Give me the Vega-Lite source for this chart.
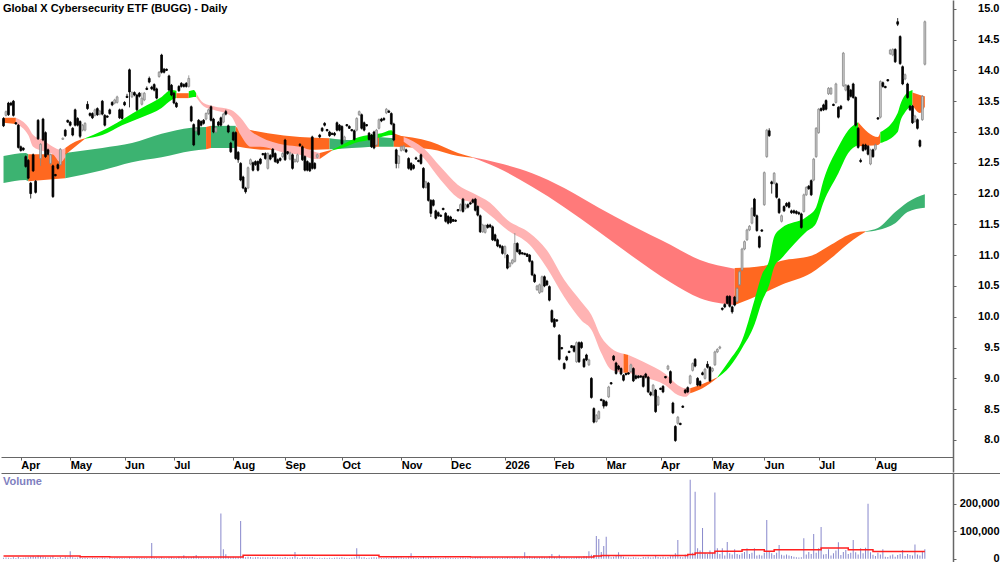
{
"$schema":"https://vega.github.io/schema/vega-lite/v6.json",
"padding":0,
"background":"white",
"spacing":0,
"config":{"view":{"stroke":null},"font":"Liberation Sans"},
"datasets":{
"ohlcv":[
{"d":-1,"o":13.22,"c":13.10,"h":13.24,"l":13.08,"v":4000},
{"d":0,"o":13.27,"c":13.33,"h":13.35,"l":13.25,"v":5000},
{"d":1,"o":13.47,"c":13.28,"h":13.49,"l":13.26,"v":4000},
{"d":2,"o":13.47,"c":13.44,"h":13.49,"l":13.42,"v":3000},
{"d":3,"o":13.50,"c":13.27,"h":13.52,"l":13.25,"v":6000},
{"d":4,"o":13.15,"c":13.13,"h":13.16,"l":13.12,"v":3000},
{"d":5,"o":13.11,"c":12.75,"h":13.13,"l":12.73,"v":7000},
{"d":6,"o":12.76,"c":12.70,"h":12.78,"l":12.68,"v":3000},
{"d":7,"o":12.74,"c":12.71,"h":12.75,"l":12.69,"v":4000},
{"d":8,"o":12.60,"c":12.44,"h":12.62,"l":12.42,"v":5000},
{"d":9,"o":12.54,"c":12.25,"h":12.56,"l":12.23,"v":6000},
{"d":10,"o":12.17,"c":12.00,"h":12.19,"l":11.92,"v":8000},
{"d":11,"o":12.63,"c":12.37,"h":12.65,"l":12.35,"v":9000},
{"d":12,"o":12.20,"c":12.02,"h":12.22,"l":12.00,"v":7000},
{"d":13,"o":13.19,"c":12.89,"h":13.21,"l":12.87,"v":12000},
{"d":14,"o":12.57,"c":12.80,"h":12.82,"l":12.45,"v":9000},
{"d":15,"o":13.21,"c":12.87,"h":13.23,"l":12.85,"v":8000},
{"d":16,"o":12.99,"c":12.60,"h":13.01,"l":12.58,"v":6000},
{"d":17,"o":12.71,"c":12.64,"h":12.73,"l":12.62,"v":5000},
{"d":18,"o":12.49,"c":12.63,"h":12.65,"l":12.47,"v":6000},
{"d":19,"o":12.45,"c":11.95,"h":12.47,"l":11.93,"v":9000},
{"d":20,"o":12.31,"c":12.29,"h":12.32,"l":12.28,"v":3000},
{"d":21,"o":12.47,"c":12.41,"h":12.49,"l":12.39,"v":4000},
{"d":22,"o":12.47,"c":12.72,"h":12.74,"l":12.45,"v":7000},
{"d":23,"o":12.88,"c":12.90,"h":12.91,"l":12.87,"v":3000},
{"d":24,"o":13.03,"c":12.94,"h":13.05,"l":12.92,"v":8000},
{"d":25,"o":13.19,"c":13.16,"h":13.20,"l":13.15,"v":5000},
{"d":26,"o":13.16,"c":13.11,"h":13.18,"l":13.09,"v":28000},
{"d":27,"o":13.06,"c":12.95,"h":13.08,"l":12.93,"v":6000},
{"d":28,"o":13.36,"c":13.11,"h":13.38,"l":13.09,"v":4000},
{"d":29,"o":13.22,"c":13.11,"h":13.24,"l":13.09,"v":5000},
{"d":30,"o":13.17,"c":12.93,"h":13.19,"l":12.90,"v":7000},
{"d":31,"o":13.03,"c":13.11,"h":13.13,"l":13.01,"v":3000},
{"d":32,"o":13.03,"c":13.14,"h":13.16,"l":13.01,"v":4000},
{"d":33,"o":13.45,"c":13.38,"h":13.50,"l":13.36,"v":3000},
{"d":34,"o":13.30,"c":13.27,"h":13.32,"l":13.25,"v":2000},
{"d":35,"o":13.30,"c":13.23,"h":13.32,"l":13.21,"v":4000},
{"d":36,"o":13.27,"c":13.36,"h":13.38,"l":13.25,"v":3000},
{"d":37,"o":13.38,"c":13.28,"h":13.40,"l":13.26,"v":3000},
{"d":38,"o":13.29,"c":13.34,"h":13.36,"l":13.27,"v":2000},
{"d":39,"o":13.50,"c":13.29,"h":13.52,"l":13.27,"v":5000},
{"d":40,"o":13.27,"c":13.11,"h":13.29,"l":13.09,"v":4000},
{"d":41,"o":13.26,"c":13.24,"h":13.27,"l":13.23,"v":2000},
{"d":42,"o":13.36,"c":13.30,"h":13.38,"l":13.28,"v":3000},
{"d":43,"o":13.48,"c":13.44,"h":13.50,"l":13.42,"v":2000},
{"d":44,"o":13.47,"c":13.52,"h":13.54,"l":13.45,"v":3000},
{"d":45,"o":13.48,"c":13.57,"h":13.59,"l":13.46,"v":4000},
{"d":46,"o":13.36,"c":13.23,"h":13.38,"l":13.21,"v":3000},
{"d":47,"o":13.36,"c":13.22,"h":13.38,"l":13.20,"v":3000},
{"d":48,"o":13.48,"c":13.44,"h":13.50,"l":13.42,"v":2000},
{"d":49,"o":13.58,"c":13.56,"h":13.62,"l":13.55,"v":2000},
{"d":50,"o":14.01,"c":13.65,"h":14.03,"l":13.40,"v":6000},
{"d":51,"o":13.57,"c":13.64,"h":13.66,"l":13.55,"v":3000},
{"d":52,"o":13.64,"c":13.60,"h":13.66,"l":13.58,"v":2000},
{"d":53,"o":13.60,"c":13.36,"h":13.62,"l":13.34,"v":4000},
{"d":54,"o":13.63,"c":13.58,"h":13.65,"l":13.56,"v":3000},
{"d":55,"o":13.45,"c":13.55,"h":13.64,"l":13.43,"v":4000},
{"d":56,"o":13.52,"c":13.63,"h":13.65,"l":13.50,"v":3000},
{"d":57,"o":13.71,"c":13.69,"h":13.74,"l":13.68,"v":3000},
{"d":58,"o":13.87,"c":13.81,"h":13.90,"l":13.79,"v":2000},
{"d":59,"o":13.73,"c":13.70,"h":13.75,"l":13.68,"v":57000},
{"d":60,"o":13.77,"c":13.68,"h":13.79,"l":13.66,"v":4000},
{"d":61,"o":13.70,"c":13.55,"h":13.72,"l":13.53,"v":3000},
{"d":62,"o":13.90,"c":13.97,"h":13.99,"l":13.88,"v":3000},
{"d":63,"o":14.25,"c":13.97,"h":14.27,"l":13.95,"v":6000},
{"d":64,"o":14.02,"c":13.97,"h":14.04,"l":13.95,"v":3000},
{"d":65,"o":14.02,"c":14.00,"h":14.03,"l":13.99,"v":2000},
{"d":66,"o":13.91,"c":13.68,"h":13.93,"l":13.66,"v":5000},
{"d":67,"o":13.76,"c":13.60,"h":13.78,"l":13.58,"v":6000},
{"d":68,"o":13.63,"c":13.47,"h":13.65,"l":13.45,"v":4000},
{"d":69,"o":13.47,"c":13.41,"h":13.49,"l":13.39,"v":3000},
{"d":70,"o":13.74,"c":13.67,"h":13.76,"l":13.65,"v":8000},
{"d":71,"o":13.79,"c":13.74,"h":13.81,"l":13.72,"v":4000},
{"d":72,"o":13.77,"c":13.74,"h":13.79,"l":13.72,"v":13000},
{"d":73,"o":13.79,"c":13.74,"h":13.81,"l":13.72,"v":5000},
{"d":74,"o":13.74,"c":13.87,"h":13.92,"l":13.72,"v":5000},
{"d":75,"o":13.41,"c":13.18,"h":13.43,"l":13.16,"v":7000},
{"d":76,"o":13.12,"c":12.79,"h":13.14,"l":12.77,"v":9000},
{"d":77,"o":13.02,"c":13.06,"h":13.08,"l":13.00,"v":14000},
{"d":78,"o":13.19,"c":12.96,"h":13.21,"l":12.94,"v":6000},
{"d":79,"o":13.17,"c":13.11,"h":13.19,"l":13.09,"v":5000},
{"d":80,"o":13.19,"c":13.14,"h":13.21,"l":13.12,"v":4000},
{"d":81,"o":13.21,"c":13.30,"h":13.32,"l":13.19,"v":4000},
{"d":82,"o":13.30,"c":13.36,"h":13.38,"l":13.28,"v":3000},
{"d":83,"o":13.41,"c":13.19,"h":13.43,"l":13.17,"v":6000},
{"d":84,"o":13.21,"c":13.00,"h":13.23,"l":12.98,"v":5000},
{"d":85,"o":13.00,"c":13.07,"h":13.09,"l":12.98,"v":4000},
{"d":86,"o":13.16,"c":13.11,"h":13.18,"l":13.09,"v":5000},
{"d":87,"o":13.23,"c":13.11,"h":13.25,"l":13.09,"v":164000},
{"d":88,"o":13.16,"c":13.29,"h":13.31,"l":13.14,"v":35000},
{"d":89,"o":13.33,"c":13.29,"h":13.36,"l":13.27,"v":17000},
{"d":90,"o":13.10,"c":13.00,"h":13.12,"l":12.98,"v":8000},
{"d":91,"o":12.82,"c":12.68,"h":12.84,"l":12.66,"v":6000},
{"d":92,"o":12.99,"c":12.87,"h":13.01,"l":12.85,"v":8000},
{"d":93,"o":12.99,"c":12.57,"h":13.01,"l":12.55,"v":6000},
{"d":94,"o":12.67,"c":12.55,"h":12.69,"l":12.50,"v":7000},
{"d":95,"o":12.49,"c":12.22,"h":12.51,"l":12.20,"v":137000},
{"d":96,"o":12.27,"c":12.09,"h":12.29,"l":12.07,"v":10000},
{"d":97,"o":12.09,"c":12.03,"h":12.11,"l":12.00,"v":6000},
{"d":98,"o":12.09,"c":12.42,"h":12.44,"l":12.07,"v":8000},
{"d":99,"o":12.48,"c":12.55,"h":12.57,"l":12.46,"v":7000},
{"d":100,"o":12.50,"c":12.38,"h":12.52,"l":12.36,"v":5000},
{"d":101,"o":12.52,"c":12.47,"h":12.54,"l":12.45,"v":6000},
{"d":102,"o":12.52,"c":12.38,"h":12.54,"l":12.36,"v":7000},
{"d":103,"o":12.56,"c":12.49,"h":12.58,"l":12.47,"v":5000},
{"d":104,"o":12.65,"c":12.63,"h":12.66,"l":12.62,"v":6000},
{"d":105,"o":12.65,"c":12.57,"h":12.67,"l":12.55,"v":5000},
{"d":106,"o":12.41,"c":12.65,"h":12.67,"l":12.39,"v":6000},
{"d":107,"o":12.62,"c":12.56,"h":12.64,"l":12.54,"v":5000},
{"d":108,"o":12.72,"c":12.60,"h":12.74,"l":12.58,"v":7000},
{"d":109,"o":12.65,"c":12.52,"h":12.67,"l":12.50,"v":5000},
{"d":110,"o":12.55,"c":12.50,"h":12.57,"l":12.48,"v":6000},
{"d":111,"o":12.57,"c":12.54,"h":12.59,"l":12.52,"v":5000},
{"d":112,"o":12.60,"c":12.65,"h":12.67,"l":12.58,"v":4000},
{"d":113,"o":12.87,"c":12.55,"h":12.89,"l":12.53,"v":7000},
{"d":114,"o":12.68,"c":12.65,"h":12.69,"l":12.63,"v":4000},
{"d":115,"o":12.56,"c":12.66,"h":12.68,"l":12.54,"v":5000},
{"d":116,"o":12.63,"c":12.41,"h":12.65,"l":12.39,"v":6000},
{"d":117,"o":12.52,"c":12.55,"h":12.57,"l":12.50,"v":25000},
{"d":118,"o":12.52,"c":12.63,"h":12.65,"l":12.50,"v":5000},
{"d":119,"o":12.80,"c":12.78,"h":12.82,"l":12.76,"v":3000},
{"d":120,"o":12.76,"c":12.55,"h":12.78,"l":12.53,"v":6000},
{"d":121,"o":12.60,"c":12.38,"h":12.62,"l":12.36,"v":7000},
{"d":122,"o":12.52,"c":12.38,"h":12.54,"l":12.36,"v":5000},
{"d":123,"o":12.49,"c":12.37,"h":12.51,"l":12.35,"v":6000},
{"d":124,"o":12.92,"c":12.41,"h":12.94,"l":12.39,"v":7000},
{"d":125,"o":12.49,"c":12.41,"h":12.51,"l":12.39,"v":4000},
{"d":126,"o":12.59,"c":12.63,"h":12.65,"l":12.57,"v":3000},
{"d":127,"o":12.95,"c":12.92,"h":12.97,"l":12.90,"v":4000},
{"d":128,"o":13.06,"c":13.02,"h":13.08,"l":13.00,"v":3000},
{"d":129,"o":13.14,"c":13.11,"h":13.16,"l":13.09,"v":4000},
{"d":130,"o":13.04,"c":13.02,"h":13.05,"l":13.01,"v":3000},
{"d":131,"o":13.00,"c":12.94,"h":13.02,"l":12.92,"v":4000},
{"d":132,"o":12.98,"c":12.96,"h":12.99,"l":12.95,"v":3000},
{"d":133,"o":12.98,"c":12.95,"h":13.00,"l":12.93,"v":4000},
{"d":134,"o":13.15,"c":13.03,"h":13.17,"l":13.01,"v":5000},
{"d":135,"o":13.11,"c":13.03,"h":13.13,"l":13.01,"v":4000},
{"d":136,"o":13.09,"c":12.81,"h":13.11,"l":12.79,"v":6000},
{"d":137,"o":12.87,"c":12.92,"h":12.94,"l":12.85,"v":4000},
{"d":138,"o":13.12,"c":13.10,"h":13.13,"l":13.09,"v":3000},
{"d":139,"o":13.09,"c":13.06,"h":13.11,"l":13.05,"v":3000},
{"d":140,"o":13.04,"c":13.02,"h":13.05,"l":13.01,"v":4000},
{"d":141,"o":13.02,"c":12.88,"h":13.04,"l":12.86,"v":5000},
{"d":142,"o":13.03,"c":13.22,"h":13.24,"l":13.01,"v":38000},
{"d":143,"o":13.28,"c":13.33,"h":13.35,"l":13.26,"v":9000},
{"d":144,"o":13.28,"c":13.06,"h":13.30,"l":13.04,"v":5000},
{"d":145,"o":13.15,"c":13.03,"h":13.17,"l":13.01,"v":6000},
{"d":146,"o":13.12,"c":13.10,"h":13.13,"l":13.09,"v":3000},
{"d":147,"o":12.98,"c":12.88,"h":13.00,"l":12.86,"v":4000},
{"d":148,"o":12.95,"c":12.76,"h":12.97,"l":12.74,"v":5000},
{"d":149,"o":13.00,"c":12.74,"h":13.02,"l":12.72,"v":6000},
{"d":150,"o":12.79,"c":13.03,"h":13.05,"l":12.77,"v":5000},
{"d":151,"o":13.06,"c":13.20,"h":13.22,"l":13.04,"v":4000},
{"d":152,"o":13.21,"c":13.18,"h":13.23,"l":13.16,"v":3000},
{"d":153,"o":13.22,"c":13.20,"h":13.24,"l":13.18,"v":3000},
{"d":154,"o":13.31,"c":13.37,"h":13.39,"l":13.29,"v":4000},
{"d":155,"o":13.34,"c":13.32,"h":13.36,"l":13.31,"v":3000},
{"d":156,"o":13.30,"c":13.13,"h":13.32,"l":13.11,"v":6000},
{"d":157,"o":13.13,"c":12.87,"h":13.15,"l":12.85,"v":7000},
{"d":158,"o":12.71,"c":12.49,"h":12.73,"l":12.41,"v":8000},
{"d":159,"o":12.49,"c":12.61,"h":12.63,"l":12.41,"v":5000},
{"d":160,"o":12.70,"c":12.76,"h":12.78,"l":12.68,"v":6000},
{"d":161,"o":12.71,"c":12.77,"h":12.79,"l":12.69,"v":4000},
{"d":162,"o":12.71,"c":12.68,"h":12.73,"l":12.66,"v":4000},
{"d":163,"o":12.57,"c":12.41,"h":12.59,"l":12.39,"v":6000},
{"d":164,"o":12.49,"c":12.39,"h":12.51,"l":12.37,"v":20000},
{"d":165,"o":12.46,"c":12.41,"h":12.48,"l":12.39,"v":5000},
{"d":166,"o":12.58,"c":12.56,"h":12.60,"l":12.55,"v":3000},
{"d":167,"o":12.54,"c":12.52,"h":12.55,"l":12.51,"v":3000},
{"d":168,"o":12.63,"c":12.49,"h":12.65,"l":12.47,"v":5000},
{"d":169,"o":12.41,"c":12.10,"h":12.43,"l":12.08,"v":7000},
{"d":170,"o":12.10,"c":12.19,"h":12.21,"l":12.08,"v":5000},
{"d":171,"o":12.17,"c":11.89,"h":12.19,"l":11.87,"v":6000},
{"d":172,"o":11.89,"c":11.68,"h":11.91,"l":11.62,"v":8000},
{"d":173,"o":11.89,"c":11.81,"h":11.91,"l":11.79,"v":4000},
{"d":174,"o":11.72,"c":11.60,"h":11.74,"l":11.58,"v":5000},
{"d":175,"o":11.69,"c":11.64,"h":11.71,"l":11.62,"v":4000},
{"d":176,"o":11.65,"c":11.63,"h":11.66,"l":11.62,"v":3000},
{"d":177,"o":11.76,"c":11.74,"h":11.77,"l":11.73,"v":3000},
{"d":178,"o":11.68,"c":11.55,"h":11.70,"l":11.53,"v":5000},
{"d":179,"o":11.63,"c":11.52,"h":11.65,"l":11.50,"v":4000},
{"d":180,"o":11.62,"c":11.53,"h":11.64,"l":11.51,"v":4000},
{"d":181,"o":11.58,"c":11.55,"h":11.59,"l":11.54,"v":3000},
{"d":182,"o":11.57,"c":11.55,"h":11.58,"l":11.54,"v":3000},
{"d":183,"o":11.74,"c":11.72,"h":11.75,"l":11.71,"v":3000},
{"d":184,"o":11.73,"c":11.82,"h":11.84,"l":11.71,"v":5000},
{"d":185,"o":11.91,"c":11.71,"h":11.93,"l":11.69,"v":6000},
{"d":186,"o":11.76,"c":11.82,"h":11.84,"l":11.74,"v":4000},
{"d":187,"o":11.82,"c":11.78,"h":11.84,"l":11.76,"v":5000},
{"d":188,"o":11.85,"c":11.83,"h":11.87,"l":11.82,"v":3000},
{"d":189,"o":11.90,"c":11.86,"h":11.92,"l":11.84,"v":4000},
{"d":190,"o":11.91,"c":11.73,"h":11.93,"l":11.71,"v":7000},
{"d":191,"o":11.79,"c":11.65,"h":11.81,"l":11.63,"v":6000},
{"d":192,"o":11.64,"c":11.38,"h":11.66,"l":11.36,"v":8000},
{"d":193,"o":11.38,"c":11.49,"h":11.51,"l":11.36,"v":5000},
{"d":194,"o":11.37,"c":11.48,"h":11.50,"l":11.35,"v":4000},
{"d":195,"o":11.49,"c":11.45,"h":11.51,"l":11.43,"v":4000},
{"d":196,"o":11.49,"c":11.46,"h":11.51,"l":11.44,"v":3000},
{"d":197,"o":11.46,"c":11.25,"h":11.48,"l":11.23,"v":6000},
{"d":198,"o":11.33,"c":11.24,"h":11.35,"l":11.22,"v":5000},
{"d":199,"o":11.25,"c":11.15,"h":11.27,"l":11.13,"v":4000},
{"d":200,"o":11.16,"c":11.13,"h":11.18,"l":11.11,"v":3000},
{"d":201,"o":11.14,"c":11.03,"h":11.16,"l":11.01,"v":5000},
{"d":202,"o":11.02,"c":11.14,"h":11.16,"l":10.95,"v":4000},
{"d":203,"o":11.00,"c":10.79,"h":11.02,"l":10.77,"v":7000},
{"d":204,"o":10.82,"c":10.87,"h":10.89,"l":10.80,"v":4000},
{"d":205,"o":10.87,"c":10.92,"h":10.94,"l":10.85,"v":5000},
{"d":206,"o":10.90,"c":11.19,"h":11.36,"l":10.88,"v":8000},
{"d":207,"o":11.19,"c":11.06,"h":11.21,"l":11.04,"v":6000},
{"d":208,"o":11.08,"c":11.02,"h":11.10,"l":11.00,"v":4000},
{"d":209,"o":11.04,"c":11.02,"h":11.05,"l":11.01,"v":4000},
{"d":210,"o":11.03,"c":11.01,"h":11.04,"l":11.00,"v":24000},
{"d":211,"o":11.02,"c":10.98,"h":11.03,"l":10.97,"v":9000},
{"d":212,"o":11.00,"c":10.90,"h":11.02,"l":10.88,"v":10000},
{"d":213,"o":10.90,"c":10.68,"h":10.92,"l":10.66,"v":6000},
{"d":214,"o":10.68,"c":10.57,"h":10.70,"l":10.55,"v":7000},
{"d":215,"o":10.44,"c":10.50,"h":10.52,"l":10.42,"v":5000},
{"d":216,"o":10.39,"c":10.52,"h":10.54,"l":10.37,"v":6000},
{"d":217,"o":10.41,"c":10.65,"h":10.67,"l":10.39,"v":8000},
{"d":218,"o":10.65,"c":10.50,"h":10.67,"l":10.48,"v":6000},
{"d":219,"o":10.58,"c":10.52,"h":10.60,"l":10.50,"v":5000},
{"d":220,"o":10.49,"c":10.27,"h":10.51,"l":10.25,"v":9000},
{"d":221,"o":10.10,"c":9.92,"h":10.12,"l":9.90,"v":18000},
{"d":222,"o":9.96,"c":9.84,"h":9.98,"l":9.82,"v":7000},
{"d":223,"o":9.95,"c":9.93,"h":9.96,"l":9.92,"v":5000},
{"d":224,"o":9.70,"c":9.31,"h":9.72,"l":9.29,"v":15000},
{"d":225,"o":9.50,"c":9.48,"h":9.51,"l":9.47,"v":6000},
{"d":226,"o":9.24,"c":9.16,"h":9.26,"l":9.14,"v":6000},
{"d":227,"o":9.35,"c":9.30,"h":9.37,"l":9.28,"v":5000},
{"d":228,"o":9.44,"c":9.42,"h":9.45,"l":9.41,"v":4000},
{"d":229,"o":9.53,"c":9.50,"h":9.54,"l":9.49,"v":4000},
{"d":230,"o":9.52,"c":9.44,"h":9.54,"l":9.42,"v":5000},
{"d":231,"o":9.27,"c":9.58,"h":9.60,"l":9.25,"v":7000},
{"d":232,"o":9.58,"c":9.27,"h":9.60,"l":9.25,"v":8000},
{"d":233,"o":9.58,"c":9.50,"h":9.60,"l":9.48,"v":5000},
{"d":234,"o":9.31,"c":9.19,"h":9.33,"l":9.17,"v":10000},
{"d":235,"o":9.38,"c":9.30,"h":9.40,"l":9.28,"v":9000},
{"d":236,"o":9.22,"c":9.30,"h":9.32,"l":9.20,"v":28000},
{"d":237,"o":9.00,"c":8.69,"h":9.02,"l":8.67,"v":15000},
{"d":238,"o":8.51,"c":8.29,"h":8.53,"l":8.27,"v":14000},
{"d":239,"o":8.30,"c":8.40,"h":8.42,"l":8.28,"v":83000},
{"d":240,"o":8.35,"c":8.46,"h":8.48,"l":8.33,"v":72000},
{"d":241,"o":8.66,"c":8.64,"h":8.67,"l":8.63,"v":25000},
{"d":242,"o":8.64,"c":8.55,"h":8.66,"l":8.51,"v":47000},
{"d":243,"o":8.62,"c":8.56,"h":8.64,"l":8.54,"v":80000},
{"d":244,"o":8.70,"c":8.86,"h":8.88,"l":8.68,"v":10000},
{"d":245,"o":8.93,"c":8.91,"h":8.94,"l":8.90,"v":6000},
{"d":246,"o":9.36,"c":9.30,"h":9.38,"l":9.28,"v":8000},
{"d":247,"o":9.25,"c":9.08,"h":9.27,"l":9.06,"v":12000},
{"d":248,"o":9.20,"c":9.15,"h":9.22,"l":9.13,"v":24000},
{"d":249,"o":9.16,"c":9.07,"h":9.18,"l":9.05,"v":10000},
{"d":250,"o":9.05,"c":8.97,"h":9.07,"l":8.95,"v":8000},
{"d":251,"o":9.08,"c":9.06,"h":9.09,"l":9.05,"v":5000},
{"d":252,"o":9.09,"c":9.07,"h":9.10,"l":9.06,"v":5000},
{"d":253,"o":9.11,"c":9.22,"h":9.24,"l":9.09,"v":4000},
{"d":254,"o":9.16,"c":8.96,"h":9.18,"l":8.94,"v":6000},
{"d":255,"o":9.04,"c":9.00,"h":9.06,"l":8.98,"v":5000},
{"d":256,"o":9.04,"c":9.01,"h":9.05,"l":9.00,"v":4000},
{"d":257,"o":9.04,"c":9.02,"h":9.05,"l":9.01,"v":3000},
{"d":258,"o":9.03,"c":8.87,"h":9.05,"l":8.85,"v":7000},
{"d":259,"o":9.07,"c":9.02,"h":9.09,"l":9.00,"v":6000},
{"d":260,"o":9.02,"c":8.78,"h":9.04,"l":8.76,"v":8000},
{"d":261,"o":8.77,"c":8.73,"h":8.79,"l":8.71,"v":5000},
{"d":262,"o":8.73,"c":8.89,"h":8.91,"l":8.71,"v":6000},
{"d":263,"o":8.81,"c":8.46,"h":8.83,"l":8.44,"v":10000},
{"d":264,"o":8.57,"c":8.70,"h":8.72,"l":8.55,"v":7000},
{"d":265,"o":8.84,"c":8.82,"h":8.85,"l":8.81,"v":5000},
{"d":266,"o":8.87,"c":8.78,"h":8.89,"l":8.76,"v":8000},
{"d":267,"o":9.03,"c":9.01,"h":9.04,"l":9.00,"v":5000},
{"d":268,"o":9.15,"c":9.20,"h":9.22,"l":9.13,"v":7000},
{"d":269,"o":9.11,"c":8.93,"h":9.13,"l":8.91,"v":9000},
{"d":270,"o":8.60,"c":8.44,"h":8.62,"l":8.42,"v":12000},
{"d":271,"o":8.22,"c":7.99,"h":8.24,"l":7.97,"v":20000},
{"d":272,"o":8.27,"c":8.37,"h":8.39,"l":8.25,"v":68000},
{"d":273,"o":8.27,"c":8.25,"h":8.28,"l":8.24,"v":8000},
{"d":274,"o":8.55,"c":8.53,"h":8.56,"l":8.52,"v":6000},
{"d":275,"o":8.81,"c":8.77,"h":8.83,"l":8.75,"v":16000},
{"d":276,"o":8.85,"c":8.78,"h":8.87,"l":8.76,"v":14000},
{"d":277,"o":8.92,"c":9.04,"h":9.06,"l":8.90,"v":287000},
{"d":278,"o":9.13,"c":9.24,"h":9.26,"l":9.11,"v":22000},
{"d":279,"o":9.31,"c":9.20,"h":9.33,"l":9.18,"v":243000},
{"d":280,"o":9.00,"c":8.89,"h":9.02,"l":8.87,"v":38000},
{"d":281,"o":8.95,"c":8.89,"h":8.97,"l":8.87,"v":30000},
{"d":282,"o":9.09,"c":9.06,"h":9.11,"l":9.05,"v":112000},
{"d":283,"o":9.00,"c":9.15,"h":9.17,"l":8.98,"v":22000},
{"d":284,"o":9.23,"c":9.18,"h":9.28,"l":9.16,"v":18000},
{"d":285,"o":9.18,"c":8.96,"h":9.20,"l":8.94,"v":30000},
{"d":286,"o":9.12,"c":9.16,"h":9.18,"l":9.10,"v":22000},
{"d":287,"o":9.22,"c":9.43,"h":9.45,"l":9.20,"v":240000},
{"d":288,"o":9.43,"c":9.47,"h":9.49,"l":9.41,"v":38000},
{"d":289,"o":9.49,"c":9.51,"h":9.53,"l":9.47,"v":18000},
{"d":290,"o":10.14,"c":10.12,"h":10.15,"l":10.10,"v":38000},
{"d":291,"o":10.20,"c":10.16,"h":10.22,"l":10.14,"v":12000},
{"d":292,"o":10.33,"c":10.22,"h":10.35,"l":10.20,"v":61000},
{"d":293,"o":10.33,"c":10.17,"h":10.35,"l":10.15,"v":20000},
{"d":294,"o":10.16,"c":10.08,"h":10.18,"l":10.05,"v":16000},
{"d":295,"o":10.32,"c":10.19,"h":10.34,"l":10.17,"v":35000},
{"d":296,"o":10.25,"c":10.46,"h":10.48,"l":10.23,"v":18000},
{"d":297,"o":10.52,"c":10.73,"h":10.75,"l":10.50,"v":15000},
{"d":298,"o":10.76,"c":11.10,"h":11.12,"l":10.74,"v":20000},
{"d":299,"o":11.10,"c":11.22,"h":11.24,"l":11.08,"v":25000},
{"d":300,"o":11.25,"c":11.41,"h":11.43,"l":11.23,"v":38000},
{"d":301,"o":11.41,"c":11.47,"h":11.49,"l":11.39,"v":18000},
{"d":302,"o":11.52,"c":11.76,"h":11.78,"l":11.50,"v":22000},
{"d":303,"o":11.91,"c":11.64,"h":11.93,"l":11.62,"v":38000},
{"d":304,"o":11.64,"c":11.40,"h":11.66,"l":11.38,"v":12000},
{"d":305,"o":11.30,"c":11.13,"h":11.32,"l":11.11,"v":15000},
{"d":306,"o":11.41,"c":11.39,"h":11.42,"l":11.38,"v":12000},
{"d":307,"o":11.82,"c":12.34,"h":12.36,"l":11.80,"v":22000},
{"d":308,"o":12.60,"c":13.03,"h":13.05,"l":12.58,"v":141000},
{"d":309,"o":13.02,"c":12.94,"h":13.06,"l":12.92,"v":25000},
{"d":310,"o":12.19,"c":12.16,"h":12.21,"l":12.00,"v":20000},
{"d":311,"o":12.17,"c":12.33,"h":12.35,"l":12.15,"v":14000},
{"d":312,"o":12.16,"c":11.94,"h":12.18,"l":11.92,"v":22000},
{"d":313,"o":11.91,"c":11.69,"h":11.93,"l":11.67,"v":50000},
{"d":314,"o":11.55,"c":11.64,"h":11.66,"l":11.53,"v":15000},
{"d":315,"o":11.79,"c":11.72,"h":11.81,"l":11.70,"v":12000},
{"d":316,"o":11.84,"c":11.80,"h":11.86,"l":11.78,"v":16000},
{"d":317,"o":11.85,"c":11.78,"h":11.87,"l":11.76,"v":12000},
{"d":318,"o":11.72,"c":11.69,"h":11.74,"l":11.67,"v":10000},
{"d":319,"o":11.72,"c":11.69,"h":11.74,"l":11.67,"v":8000},
{"d":320,"o":11.71,"c":11.68,"h":11.73,"l":11.66,"v":6000},
{"d":321,"o":11.69,"c":11.67,"h":11.71,"l":11.65,"v":5000},
{"d":322,"o":11.67,"c":11.45,"h":11.69,"l":11.43,"v":6000},
{"d":323,"o":11.71,"c":11.98,"h":12.00,"l":11.69,"v":75000},
{"d":324,"o":11.98,"c":12.10,"h":12.12,"l":11.96,"v":16000},
{"d":325,"o":12.12,"c":12.08,"h":12.14,"l":12.06,"v":25000},
{"d":326,"o":12.21,"c":11.98,"h":12.23,"l":11.96,"v":18000},
{"d":327,"o":12.22,"c":12.56,"h":12.58,"l":12.20,"v":90000},
{"d":328,"o":12.60,"c":13.06,"h":13.08,"l":12.58,"v":22000},
{"d":329,"o":12.99,"c":13.37,"h":13.39,"l":12.97,"v":38000},
{"d":330,"o":13.38,"c":13.35,"h":13.40,"l":13.33,"v":115000},
{"d":331,"o":13.44,"c":13.36,"h":13.46,"l":13.34,"v":16000},
{"d":332,"o":13.51,"c":13.37,"h":13.53,"l":13.35,"v":18000},
{"d":333,"o":13.62,"c":13.71,"h":13.73,"l":13.60,"v":35000},
{"d":334,"o":13.62,"c":13.71,"h":13.73,"l":13.60,"v":12000},
{"d":335,"o":13.45,"c":13.43,"h":13.46,"l":13.42,"v":20000},
{"d":336,"o":13.48,"c":13.78,"h":13.80,"l":13.46,"v":30000},
{"d":337,"o":13.40,"c":13.24,"h":13.42,"l":13.22,"v":60000},
{"d":338,"o":13.42,"c":13.38,"h":13.44,"l":13.36,"v":14000},
{"d":339,"o":13.75,"c":14.28,"h":14.30,"l":13.73,"v":25000},
{"d":340,"o":13.68,"c":13.76,"h":13.78,"l":13.66,"v":32000},
{"d":341,"o":13.75,"c":13.52,"h":13.77,"l":13.50,"v":18000},
{"d":342,"o":13.68,"c":13.58,"h":13.70,"l":13.56,"v":22000},
{"d":343,"o":13.78,"c":13.56,"h":13.80,"l":13.54,"v":68000},
{"d":344,"o":13.56,"c":13.11,"h":13.58,"l":13.09,"v":24000},
{"d":345,"o":13.06,"c":12.75,"h":13.08,"l":12.73,"v":16000},
{"d":346,"o":12.54,"c":12.52,"h":12.57,"l":12.50,"v":38000},
{"d":347,"o":12.79,"c":12.70,"h":12.81,"l":12.68,"v":20000},
{"d":348,"o":12.79,"c":12.72,"h":12.81,"l":12.70,"v":40000},
{"d":349,"o":12.77,"c":12.64,"h":12.79,"l":12.62,"v":200000},
{"d":350,"o":12.48,"c":12.71,"h":12.73,"l":12.46,"v":24000},
{"d":351,"o":12.71,"c":12.60,"h":12.73,"l":12.58,"v":15000},
{"d":352,"o":12.72,"c":12.79,"h":12.81,"l":12.70,"v":10000},
{"d":353,"o":13.23,"c":13.21,"h":13.24,"l":13.20,"v":22000},
{"d":354,"o":13.24,"c":13.82,"h":13.84,"l":13.22,"v":16000},
{"d":355,"o":13.80,"c":13.74,"h":13.82,"l":13.72,"v":35000},
{"d":356,"o":13.74,"c":13.72,"h":13.75,"l":13.71,"v":8000},
{"d":357,"o":13.85,"c":13.83,"h":13.86,"l":13.82,"v":7000},
{"d":358,"o":14.27,"c":14.33,"h":14.35,"l":14.25,"v":12000},
{"d":359,"o":14.25,"c":14.34,"h":14.36,"l":14.23,"v":16000},
{"d":360,"o":14.34,"c":14.14,"h":14.36,"l":14.12,"v":8000},
{"d":361,"o":14.79,"c":14.75,"h":14.85,"l":14.72,"v":14000},
{"d":362,"o":14.55,"c":14.11,"h":14.57,"l":14.09,"v":18000},
{"d":363,"o":14.06,"c":13.78,"h":14.08,"l":13.76,"v":32000},
{"d":364,"o":13.86,"c":13.93,"h":13.95,"l":13.84,"v":10000},
{"d":365,"o":13.78,"c":13.56,"h":13.80,"l":13.54,"v":18000},
{"d":366,"o":13.42,"c":13.36,"h":13.44,"l":13.34,"v":14000},
{"d":367,"o":13.42,"c":13.15,"h":13.44,"l":13.13,"v":12000},
{"d":368,"o":13.17,"c":13.26,"h":13.28,"l":13.15,"v":52000},
{"d":369,"o":13.20,"c":13.06,"h":13.22,"l":13.04,"v":16000},
{"d":370,"o":12.86,"c":12.77,"h":12.88,"l":12.75,"v":12000},
{"d":371,"o":13.20,"c":13.58,"h":13.60,"l":13.18,"v":25000},
{"d":372,"o":14.10,"c":14.79,"h":14.81,"l":14.08,"v":35000}
],
"ribbons":[
{"seg":"L01","state":"long up","d":-1,"a":12.61,"b":12.17},{"seg":"L01","state":"long up","d":8,"a":12.66,"b":12.22},{"seg":"L01","state":"long up","d":9,"a":12.64,"b":12.20},
{"seg":"L02","state":"mixed","d":9,"a":12.64,"b":12.20},{"seg":"L02","state":"mixed","d":24,"a":12.64,"b":12.25},
{"seg":"L03","state":"long up","d":24,"a":12.66,"b":12.25},{"seg":"L03","state":"long up","d":39,"a":12.74,"b":12.38},{"seg":"L03","state":"long up","d":51,"a":12.82,"b":12.51},{"seg":"L03","state":"long up","d":63,"a":12.97,"b":12.59},{"seg":"L03","state":"long up","d":75,"a":13.07,"b":12.69},{"seg":"L03","state":"long up","d":81,"a":13.08,"b":12.72},
{"seg":"L04","state":"mixed","d":81,"a":13.08,"b":12.72},{"seg":"L04","state":"mixed","d":83,"a":13.10,"b":12.74},
{"seg":"L05","state":"long up","d":83,"a":13.10,"b":12.74},{"seg":"L05","state":"long up","d":93,"a":13.10,"b":12.74},
{"seg":"L06","state":"mixed","d":93,"a":13.08,"b":12.77},{"seg":"L06","state":"mixed","d":106,"a":12.98,"b":12.71},{"seg":"L06","state":"mixed","d":119,"a":12.92,"b":12.71},{"seg":"L06","state":"mixed","d":131,"a":12.90,"b":12.72},
{"seg":"L07","state":"long up","d":131,"a":12.90,"b":12.72},{"seg":"L07","state":"long up","d":140,"a":12.87,"b":12.74},{"seg":"L07","state":"long up","d":148,"a":12.90,"b":12.76},
{"seg":"L08","state":"mixed","d":148,"a":12.90,"b":12.76},{"seg":"L08","state":"mixed","d":151,"a":12.95,"b":12.76},
{"seg":"L09","state":"long up","d":151,"a":12.92,"b":12.76},{"seg":"L09","state":"long up","d":157,"a":12.90,"b":12.76},
{"seg":"L10","state":"mixed","d":157,"a":12.95,"b":12.76},{"seg":"L10","state":"mixed","d":172,"a":12.84,"b":12.72},{"seg":"L10","state":"mixed","d":183,"a":12.66,"b":12.61},{"seg":"L10","state":"mixed","d":189,"a":12.59,"b":12.58},
{"seg":"L11","state":"long down","d":189,"a":12.59,"b":12.58},{"seg":"L11","state":"long down","d":199,"a":12.50,"b":12.42},{"seg":"L11","state":"long down","d":213,"a":12.33,"b":12.11},{"seg":"L11","state":"long down","d":226,"a":12.09,"b":11.78},{"seg":"L11","state":"long down","d":240,"a":11.77,"b":11.38},{"seg":"L11","state":"long down","d":253,"a":11.49,"b":11.00},{"seg":"L11","state":"long down","d":269,"a":11.17,"b":10.56},{"seg":"L11","state":"long down","d":281,"a":10.92,"b":10.30},{"seg":"L11","state":"long down","d":295,"a":10.78,"b":10.19},
{"seg":"L12","state":"mixed","d":295,"a":10.79,"b":10.19},{"seg":"L12","state":"mixed","d":307,"a":10.83,"b":10.39},{"seg":"L12","state":"mixed","d":314,"a":10.91,"b":10.52},{"seg":"L12","state":"mixed","d":326,"a":10.99,"b":10.71},{"seg":"L12","state":"mixed","d":334,"a":11.17,"b":10.95},{"seg":"L12","state":"mixed","d":343,"a":11.36,"b":11.25},{"seg":"L12","state":"mixed","d":348,"a":11.39,"b":11.38},
{"seg":"L13","state":"long up","d":348,"a":11.39,"b":11.38},{"seg":"L13","state":"long up","d":353,"a":11.44,"b":11.41},{"seg":"L13","state":"long up","d":360,"a":11.70,"b":11.52},{"seg":"L13","state":"long up","d":365,"a":11.86,"b":11.70},{"seg":"L13","state":"long up","d":372,"a":11.99,"b":11.77},
{"seg":"S01","state":"mixed","d":-1,"a":13.23,"b":13.15},{"seg":"S01","state":"mixed","d":4,"a":13.23,"b":13.13},
{"seg":"S02","state":"short down","d":4,"a":13.23,"b":13.13},{"seg":"S02","state":"short down","d":9,"a":13.08,"b":12.95},{"seg":"S02","state":"short down","d":11,"a":12.95,"b":12.76},{"seg":"S02","state":"short down","d":15,"a":12.87,"b":12.69},{"seg":"S02","state":"short down","d":19,"a":12.76,"b":12.64},{"seg":"S02","state":"short down","d":22,"a":12.71,"b":12.51},{"seg":"S02","state":"short down","d":24,"a":12.74,"b":12.59},
{"seg":"S03","state":"mixed","d":24,"a":12.74,"b":12.63},{"seg":"S03","state":"mixed","d":28,"a":12.84,"b":12.76},{"seg":"S03","state":"mixed","d":32,"a":12.90,"b":12.89},
{"seg":"S04","state":"short up","d":32,"a":12.90,"b":12.89},{"seg":"S04","state":"short up","d":39,"a":13.02,"b":12.95},{"seg":"S04","state":"short up","d":47,"a":13.20,"b":13.11},{"seg":"S04","state":"short up","d":55,"a":13.39,"b":13.24},{"seg":"S04","state":"short up","d":63,"a":13.57,"b":13.39},{"seg":"S04","state":"short up","d":67,"a":13.68,"b":13.52},{"seg":"S04","state":"short up","d":69,"a":13.67,"b":13.55},
{"seg":"S05","state":"mixed","d":69,"a":13.63,"b":13.55},{"seg":"S05","state":"mixed","d":74,"a":13.63,"b":13.55},
{"seg":"S06","state":"short up","d":74,"a":13.66,"b":13.55},{"seg":"S06","state":"short up","d":76,"a":13.68,"b":13.57},{"seg":"S06","state":"short up","d":77,"a":13.63,"b":13.57},
{"seg":"S07","state":"short down","d":77,"a":13.63,"b":13.57},{"seg":"S07","state":"short down","d":80,"a":13.47,"b":13.42},{"seg":"S07","state":"short down","d":84,"a":13.42,"b":13.36},{"seg":"S07","state":"short down","d":91,"a":13.36,"b":13.26},{"seg":"S07","state":"short down","d":95,"a":13.23,"b":12.95},{"seg":"S07","state":"short down","d":99,"a":13.02,"b":12.76},{"seg":"S07","state":"short down","d":103,"a":12.92,"b":12.76},{"seg":"S07","state":"short down","d":113,"a":12.79,"b":12.66},{"seg":"S07","state":"short down","d":119,"a":12.76,"b":12.63},{"seg":"S07","state":"short down","d":125,"a":12.68,"b":12.56},{"seg":"S07","state":"short down","d":127,"a":12.66,"b":12.56},
{"seg":"S08","state":"mixed","d":127,"a":12.66,"b":12.56},{"seg":"S08","state":"mixed","d":132,"a":12.71,"b":12.70},
{"seg":"S09","state":"short up","d":132,"a":12.71,"b":12.70},{"seg":"S09","state":"short up","d":136,"a":12.79,"b":12.74},{"seg":"S09","state":"short up","d":143,"a":12.92,"b":12.84},{"seg":"S09","state":"short up","d":147,"a":12.95,"b":12.87},{"seg":"S09","state":"short up","d":152,"a":12.98,"b":12.92},{"seg":"S09","state":"short up","d":156,"a":13.03,"b":12.95},{"seg":"S09","state":"short up","d":157,"a":12.98,"b":12.95},
{"seg":"S10","state":"mixed","d":157,"a":12.98,"b":12.95},{"seg":"S10","state":"mixed","d":161,"a":12.92,"b":12.84},
{"seg":"S11","state":"short down","d":161,"a":12.92,"b":12.84},{"seg":"S11","state":"short down","d":169,"a":12.74,"b":12.58},{"seg":"S11","state":"short down","d":176,"a":12.43,"b":12.22},{"seg":"S11","state":"short down","d":183,"a":12.14,"b":11.93},{"seg":"S11","state":"short down","d":189,"a":12.01,"b":11.85},{"seg":"S11","state":"short down","d":196,"a":11.85,"b":11.65},{"seg":"S11","state":"short down","d":203,"a":11.57,"b":11.41},{"seg":"S11","state":"short down","d":212,"a":11.36,"b":11.17},{"seg":"S11","state":"short down","d":219,"a":11.08,"b":10.79},{"seg":"S11","state":"short down","d":226,"a":10.60,"b":10.32},{"seg":"S11","state":"short down","d":233,"a":10.24,"b":9.94},{"seg":"S11","state":"short down","d":237,"a":10.03,"b":9.79},{"seg":"S11","state":"short down","d":241,"a":9.67,"b":9.41},{"seg":"S11","state":"short down","d":245,"a":9.49,"b":9.14},{"seg":"S11","state":"short down","d":250,"a":9.40,"b":9.09},
{"seg":"S12","state":"mixed","d":250,"a":9.40,"b":9.09},{"seg":"S12","state":"mixed","d":252,"a":9.38,"b":9.09},
{"seg":"S13","state":"short down","d":252,"a":9.38,"b":9.09},{"seg":"S13","state":"short down","d":258,"a":9.27,"b":9.02},{"seg":"S13","state":"short down","d":267,"a":9.07,"b":8.89},{"seg":"S13","state":"short down","d":272,"a":8.89,"b":8.73},{"seg":"S13","state":"short down","d":275,"a":8.84,"b":8.70},{"seg":"S13","state":"short down","d":277,"a":8.84,"b":8.76},
{"seg":"S14","state":"mixed","d":277,"a":8.84,"b":8.76},{"seg":"S14","state":"mixed","d":282,"a":8.91,"b":8.84},{"seg":"S14","state":"mixed","d":288,"a":9.02,"b":9.01},
{"seg":"S15","state":"short up","d":288,"a":9.02,"b":9.01},{"seg":"S15","state":"short up","d":293,"a":9.30,"b":9.19},{"seg":"S15","state":"short up","d":298,"a":9.62,"b":9.49},{"seg":"S15","state":"short up","d":303,"a":10.27,"b":9.87},{"seg":"S15","state":"short up","d":306,"a":10.68,"b":10.24},{"seg":"S15","state":"short up","d":309,"a":10.92,"b":10.52},{"seg":"S15","state":"short up","d":311,"a":11.30,"b":10.81},{"seg":"S15","state":"short up","d":314,"a":11.44,"b":10.95},{"seg":"S15","state":"short up","d":324,"a":11.62,"b":11.38},{"seg":"S15","state":"short up","d":328,"a":11.78,"b":11.52},{"seg":"S15","state":"short up","d":331,"a":12.22,"b":11.86},{"seg":"S15","state":"short up","d":337,"a":12.76,"b":12.33},{"seg":"S15","state":"short up","d":341,"a":13.03,"b":12.66},{"seg":"S15","state":"short up","d":345,"a":13.16,"b":12.79},
{"seg":"S16","state":"mixed","d":345,"a":13.16,"b":12.77},{"seg":"S16","state":"mixed","d":353,"a":12.92,"b":12.79},{"seg":"S16","state":"mixed","d":354,"a":13.00,"b":12.82},
{"seg":"S17","state":"short up","d":354,"a":13.00,"b":12.82},{"seg":"S17","state":"short up","d":361,"a":13.31,"b":13.00},{"seg":"S17","state":"short up","d":362,"a":13.44,"b":13.16},{"seg":"S17","state":"short up","d":364,"a":13.60,"b":13.32},{"seg":"S17","state":"short up","d":367,"a":13.68,"b":13.44},
{"seg":"S18","state":"mixed","d":367,"a":13.64,"b":13.44},{"seg":"S18","state":"mixed","d":370,"a":13.60,"b":13.31},{"seg":"S18","state":"mixed","d":372,"a":13.58,"b":13.41}
],
"volumeAverage":[
{"d":-1,"m":10000},{"d":30,"m":8000},{"d":42,"m":7000},{"d":96,"m":13000},{"d":151,"m":8000},{"d":188,"m":7000},{"d":238,"m":10000},{"d":241,"m":12000},{"d":272,"m":12000},{"d":276,"m":16000},{"d":279,"m":21000},{"d":287,"m":28000},{"d":298,"m":33000},{"d":307,"m":28000},{"d":311,"m":33000},{"d":330,"m":39000},{"d":341,"m":33000},{"d":351,"m":27000},{"d":372,"m":27000}
]
},
"vconcat":[
{
"width":952,
"height":472,
"title":{"text":"Global X Cybersecurity ETF (BUGG) - Daily","anchor":"start","frame":"group","offset":-14,"fontSize":11,"fontWeight":"bold","font":"Liberation Sans","color":"#000","dx":2},
"encoding":{
"x":{"field":"d","type":"quantitative","title":null,"scale":{"domain":[-2.02,383.4],"nice":false,"zero":false,"padding":0},
"axis":{"orient":"bottom","offset":-15,"grid":false,"tickCount":30,"values":[6,26,48,68,92,113,136,160,180,202,222,243,265,286,307,329,352],"labelExpr":"['Apr','May','Jun','Jul','Aug','Sep','Oct','Nov','Dec','2026','Feb','Mar','Apr','May','Jun','Jul','Aug'][indexof([6,26,48,68,92,113,136,160,180,202,222,243,265,286,307,329,352],datum.value)]","labelAlign":"left","labelBaseline":"top","labelBound":false,"labelFlush":false,"labelOverlap":false,"labelFontSize":11,"labelFontWeight":"bold","labelColor":"#000","labelPadding":-1,"labelFont":"Liberation Sans","tickSize":3,"tickColor":"#666","domainColor":"#666"}}
},
"layer":[
{"data":{"name":"ribbons"},"mark":{"type":"area","interpolate":"monotone"},
"encoding":{
"y":{"field":"a","type":"quantitative","title":null,"scale":{"domain":[7.48,15.143],"nice":false,"zero":false},
"axis":{"orient":"right","grid":false,"tickCount":30,"values":[8,8.5,9,9.5,10,10.5,11,11.5,12,12.5,13,13.5,14,14.5,15],"format":".1f","labelAlign":"right","labelPadding":43,"labelOverlap":false,"labelBound":false,"labelFontSize":11,"labelFontWeight":"bold","labelColor":"#000","labelFont":"Liberation Sans","tickSize":3,"tickColor":"#666","domainColor":"#666","domainWidth":1.5}},
"y2":{"field":"b"},
"detail":{"field":"seg"},
"color":{"field":"state","type":"nominal","legend":null,"scale":{"domain":["long up","long down","mixed","short up","short down"],"range":["#3CB371","#FF7A7A","#FF6820","#00F000","#FFB3B3"]}}
}},
{"data":{"name":"ohlcv"},"mark":{"type":"rule","strokeWidth":0.8},
"encoding":{"y":{"field":"h","type":"quantitative"},"y2":{"field":"l"},
"color":{"condition":{"test":"datum.c>datum.o","value":"#888"},"value":"#000"}}},
{"data":{"name":"ohlcv"},"mark":{"type":"bar","size":1.8,"strokeWidth":0.8},
"encoding":{"y":{"field":"o","type":"quantitative"},"y2":{"field":"c"},
"fill":{"condition":{"test":"datum.c>datum.o","value":"#ccc"},"value":"#000"},
"stroke":{"condition":{"test":"datum.c>datum.o","value":"#888"},"value":"#000"}}}
]
},
{
"width":952,
"height":90,
"title":{"text":"Volume","anchor":"start","frame":"group","offset":-14,"fontSize":11,"fontWeight":"bold","font":"Liberation Sans","color":"#8080C0","dx":2},
"encoding":{
"x":{"field":"d","type":"quantitative","title":null,"scale":{"domain":[-2.02,383.4],"nice":false,"zero":false,"padding":0},
"axis":{"orient":"top","grid":false,"labels":false,"ticks":false,"domainColor":"#666"}}
},
"layer":[
{"data":{"name":"ohlcv"},"mark":{"type":"bar","size":1,"color":"#8888CC"},
"encoding":{"y":{"field":"v","type":"quantitative","title":null,"scale":{"domain":[-15000,311000],"nice":false,"zero":false},
"axis":{"orient":"right","grid":false,"tickCount":10,"values":[0,100000,200000,311000],"labelExpr":"datum.value>300000?'':format(datum.value,',')","labelAlign":"right","labelPadding":43,"labelOverlap":false,"labelBound":false,"labelFontSize":{"condition":{"test":"datum.value>300000","value":0},"value":11},"labelFontWeight":"bold","labelColor":"#000","labelFont":"Liberation Sans","tickSize":{"condition":{"test":"datum.value>300000","value":48},"value":3},"tickColor":"#666","domainColor":"#666","domainWidth":1.5}}}},
{"data":{"name":"volumeAverage"},"mark":{"type":"line","color":"#FF2020","strokeWidth":1.5,"interpolate":"step-after"},
"encoding":{"y":{"field":"m","type":"quantitative"}}}
]
}
]
}
